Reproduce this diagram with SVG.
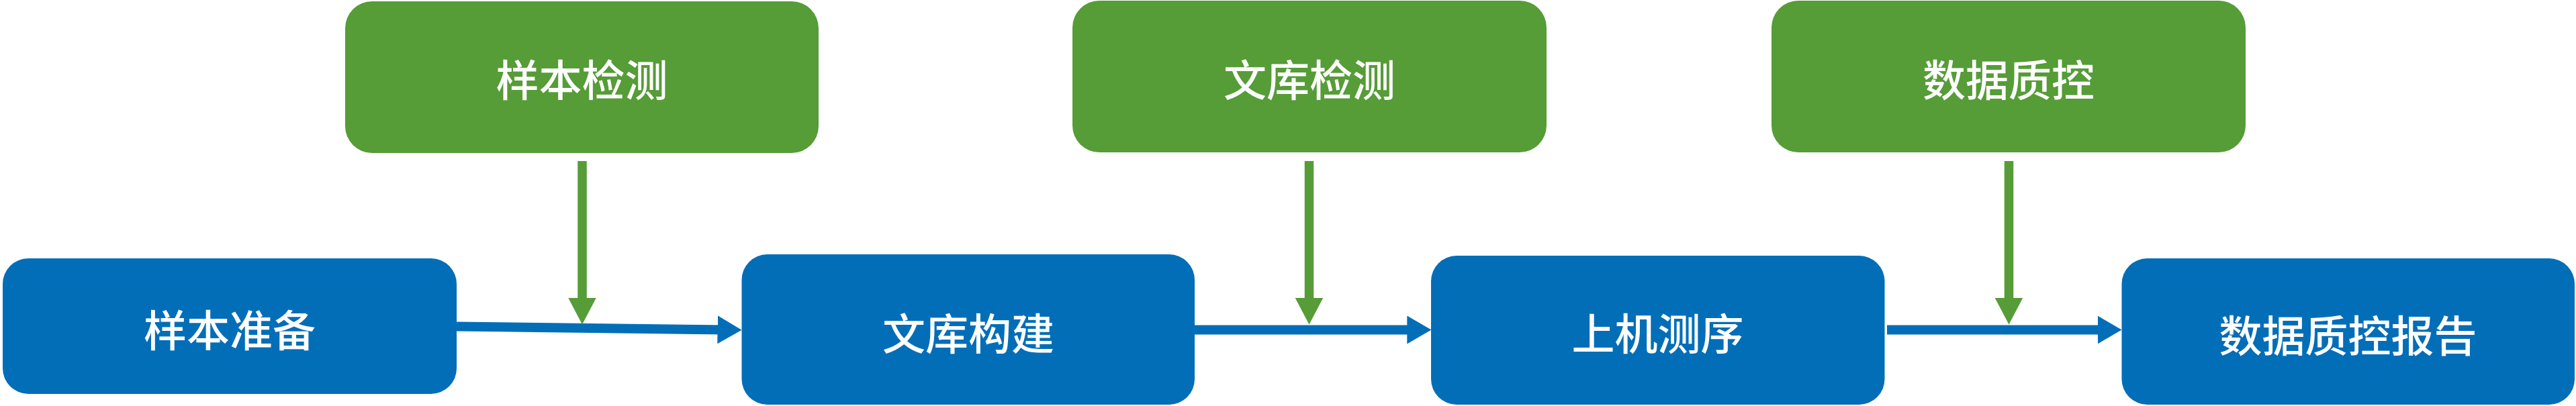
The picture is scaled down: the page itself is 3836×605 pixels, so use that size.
<svg xmlns="http://www.w3.org/2000/svg" width="3836" height="605" viewBox="0 0 3836 605">
<style>
.g{fill:#569C37}
.b{fill:#036EB8}
.t{font-family:"Noto Sans CJK SC","Noto Sans",sans-serif;font-size:64px;font-weight:500;fill:#FFFFFF;text-anchor:middle}
.cb{stroke:#036EB8;stroke-width:14;fill:none;marker-end:url(#hb)}
.cg{stroke:#569C37;stroke-width:13.5;fill:none;marker-end:url(#hg)}
</style>
<defs>
<marker id="hb" markerUnits="userSpaceOnUse" markerWidth="36" markerHeight="42" refX="16" refY="21" orient="auto">
<path d="M0,0 L36,21 L0,42 z" fill="#036EB8"/>
</marker>
<marker id="hg" markerUnits="userSpaceOnUse" markerWidth="40" markerHeight="42" refX="20" refY="21" orient="auto">
<path d="M0,0 L40,21 L0,42 z" fill="#569C37"/>
</marker>
</defs>
<rect width="3836" height="605" fill="#FFFFFF"/>
<g id="node-sample-check"><rect class="g" x="514" y="2" width="705" height="226" rx="40" ry="40"/><text class="t" x="866.5" y="143">样本检测</text></g>
<g id="node-library-check"><rect class="g" x="1597" y="1" width="706" height="226" rx="40" ry="40"/><text class="t" x="1950" y="143">文库检测</text></g>
<g id="node-data-qc"><rect class="g" x="2638" y="1" width="706" height="226" rx="40" ry="40"/><text class="t" x="2991" y="143">数据质控</text></g>
<g id="node-sample-prep"><rect class="b" x="4" y="385" width="676" height="202" rx="38" ry="38"/><text class="t" x="342" y="516">样本准备</text></g>
<g id="node-library-build"><rect class="b" x="1104.5" y="379" width="674.5" height="224" rx="38" ry="38"/><text class="t" x="1442" y="521">文库构建</text></g>
<g id="node-sequencing"><rect class="b" x="2131" y="381" width="675.5" height="222" rx="38" ry="38"/><text class="t" x="2468.5" y="521">上机测序</text></g>
<g id="node-qc-report"><rect class="b" x="3159.5" y="385" width="674.5" height="218" rx="38" ry="38"/><text class="t" x="3496.5" y="524">数据质控报告</text></g>
<g id="connectors">
<line class="cb" x1="680" y1="486.5" x2="1084.5" y2="491.5"/>
<line class="cb" x1="1779" y1="491.5" x2="2111.3" y2="491.5"/>
<line class="cb" x1="2810" y1="491.5" x2="3139.5" y2="491.5"/>
<line class="cg" x1="867" y1="240" x2="867" y2="463.5"/>
<line class="cg" x1="1949.5" y1="240" x2="1949.5" y2="463.5"/>
<line class="cg" x1="2991.5" y1="240" x2="2991.5" y2="463.5"/>
</g>
</svg>
